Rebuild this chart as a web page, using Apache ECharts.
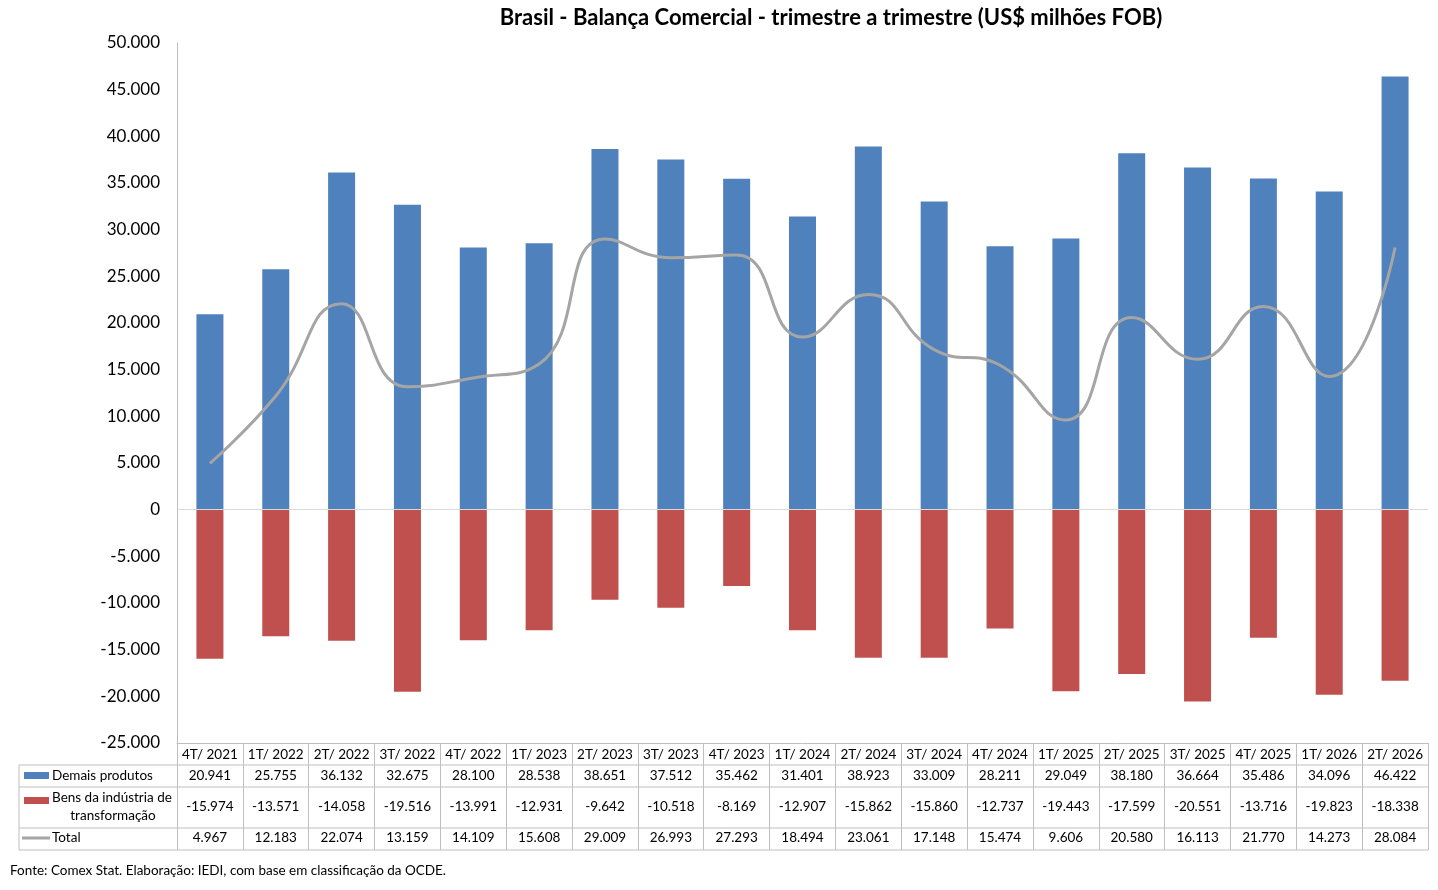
<!DOCTYPE html>
<html>
<head>
<meta charset="utf-8">
<script src="https://cdn.jsdelivr.net/npm/echarts@6/dist/echarts.min.js"></script>
<style>
html, body { margin: 0; padding: 0; background: #fff; }
#chart { width: 1438px; height: 890px; }
</style>
</head>
<body>
<div id="chart"></div>
<script>
var categorias = ['4T/ 2021', '1T/ 2022', '2T/ 2022', '3T/ 2022', '4T/ 2022', '1T/ 2023', '2T/ 2023',
	'3T/ 2023', '4T/ 2023', '1T/ 2024', '2T/ 2024', '3T/ 2024', '4T/ 2024', '1T/ 2025', '2T/ 2025',
	'3T/ 2025', '4T/ 2025', '1T/ 2026', '2T/ 2026'];
var demaisProdutos = [20941, 25755, 36132, 32675, 28100, 28538, 38651, 37512, 35462, 31401, 38923,
	33009, 28211, 29049, 38180, 36664, 35486, 34096, 46422];
var bensIndustria = [-15974, -13571, -14058, -19516, -13991, -12931, -9642, -10518, -8169, -12907,
	-15862, -15860, -12737, -19443, -17599, -20551, -13716, -19823, -18338];
var total = [4967, 12183, 22074, 13159, 14109, 15608, 29009, 26993, 27293, 18494, 23061, 17148,
	15474, 9606, 20580, 16113, 21770, 14273, 28084];

var fonte = 'Lato, "Open Sans", sans-serif';
var corAzul = '#4F81BD', corVermelho = '#C0504D', corCinza = '#A5A5A5', corGrade = '#BFBFBF';
var fTab = '13.5px ' + fonte;

// área do gráfico (px)
var gLeft = 177, gRight = 1428, gTop = 43, gBottom = 743;
var tabLeft = 19;
var linhas = [743, 765, 787, 828, 850]; // linhas horizontais da tabela

function fmt(v) {
	var s = Math.abs(v).toString().replace(/\B(?=(\d{3})+(?!\d))/g, '.');
	return (v < 0 ? '-' : '') + s;
}

var dom = document.getElementById('chart');
var myChart = echarts.init(dom);

var colW = (gRight - gLeft) / categorias.length;
var graficos = [];

// título
graficos.push({
	type : 'text', x : 831, y : 18,
	style : { text : 'Brasil - Balança Comercial - trimestre a trimestre (US$ milhões FOB)',
		font : 'bold 22px ' + fonte, fill : '#000', textAlign : 'center', textVerticalAlign : 'middle' }
});

// linhas horizontais da tabela
for (var k = 1; k < linhas.length; k++) {
	graficos.push({
		type : 'line', shape : { x1 : tabLeft, y1 : linhas[k], x2 : gRight, y2 : linhas[k] },
		style : { stroke : corGrade, lineWidth : 1 }
	});
}
graficos.push({
	type : 'line', shape : { x1 : tabLeft, y1 : linhas[1], x2 : tabLeft, y2 : linhas[4] },
	style : { stroke : corGrade, lineWidth : 1 }
});

// coluna da legenda
graficos.push({ type : 'rect', shape : { x : 24, y : 772, width : 25, height : 7 }, style : { fill : corAzul } });
graficos.push({ type : 'text', x : 52, y : 776,
	style : { text : 'Demais produtos', font : fTab, fill : '#000', textVerticalAlign : 'middle' } });
graficos.push({ type : 'rect', shape : { x : 24, y : 797, width : 25, height : 7 }, style : { fill : corVermelho } });
graficos.push({ type : 'text', x : 52, y : 798,
	style : { text : 'Bens da indústria de', font : fTab, fill : '#000', textVerticalAlign : 'middle' } });
graficos.push({ type : 'text', x : 113, y : 816,
	style : { text : 'transformação', font : fTab, fill : '#000', textAlign : 'center', textVerticalAlign : 'middle' } });
graficos.push({ type : 'line', shape : { x1 : 22, y1 : 838, x2 : 50, y2 : 838 }, style : { stroke : corCinza, lineWidth : 3 } });
graficos.push({ type : 'text', x : 52, y : 838,
	style : { text : 'Total', font : fTab, fill : '#000', textVerticalAlign : 'middle' } });

// valores da tabela
var linhasValores = [[demaisProdutos, 776], [bensIndustria, 807], [total, 838]];
for (var r = 0; r < linhasValores.length; r++) {
	for (var i = 0; i < categorias.length; i++) {
		graficos.push({
			type : 'text', x : gLeft + colW * (i + 0.5), y : linhasValores[r][1],
			style : { text : fmt(linhasValores[r][0][i]), font : fTab, fill : '#000',
				textAlign : 'center', textVerticalAlign : 'middle' }
		});
	}
}

// fonte
graficos.push({ type : 'text', x : 10, y : 871,
	style : { text : 'Fonte: Comex Stat. Elaboração: IEDI, com base em classificação da OCDE.',
		font : fTab, fill : '#000', textVerticalAlign : 'middle' } });

var option = {
	backgroundColor : '#fff',
	animation : false,
	textStyle : { fontFamily : fonte },
	grid : { left : gLeft, right : 1438 - gRight, top : gTop, bottom : 890 - gBottom, containLabel : false },
	xAxis : {
		type : 'category',
		data : categorias,
		position : 'bottom',
		axisLine : { onZero : false, lineStyle : { color : corGrade } },
		axisTick : { show : true, length : linhas[4] - linhas[0], lineStyle : { color : corGrade } },
		axisLabel : { color : '#000', fontSize : 13.5, margin : 5, interval : 0 },
		splitLine : { show : false }
	},
	yAxis : {
		type : 'value',
		min : -25000, max : 50000, interval : 5000,
		axisLine : { show : true, lineStyle : { color : corGrade } },
		axisTick : { show : false },
		splitLine : { show : false },
		axisLabel : { color : '#000', fontSize : 17, margin : 17, formatter : fmt }
	},
	series : [ {
		name : 'Demais produtos',
		type : 'bar',
		stack : 'a',
		barWidth : 27,
		itemStyle : { color : corAzul },
		data : demaisProdutos,
		markLine : {
			silent : true, symbol : 'none', label : { show : false },
			lineStyle : { color : '#D9D9D9', type : 'solid', width : 1 },
			data : [ { yAxis : 0 } ]
		}
	}, {
		name : 'Bens da indústria de transformação',
		type : 'bar',
		stack : 'a',
		barWidth : 27,
		itemStyle : { color : corVermelho },
		data : bensIndustria
	}, {
		name : 'Total',
		type : 'line',
		smooth : 0.5,
		symbol : 'none',
		lineStyle : { color : corCinza, width : 3 },
		data : total,
		z : 5
	} ],
	graphic : graficos
};

myChart.setOption(option, true);
</script>
</body>
</html>
